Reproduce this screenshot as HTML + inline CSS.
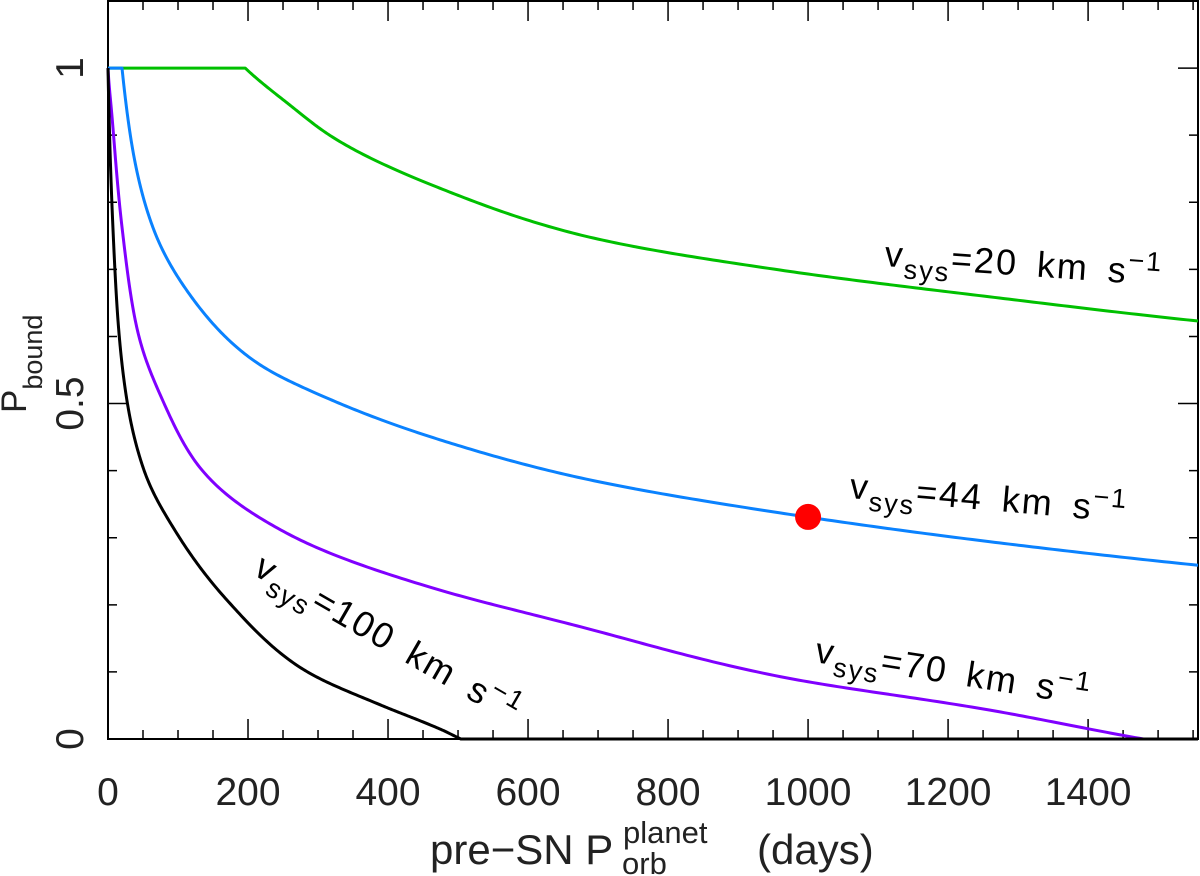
<!DOCTYPE html>
<html><head><meta charset="utf-8"><style>
html,body{margin:0;padding:0;background:#fff;}
svg{display:block;font-family:"Liberation Sans",sans-serif;}
.lab{font-size:36px;letter-spacing:2px;word-spacing:7px;}
</style></head><body>
<svg id="chart" width="1200" height="876" viewBox="0 0 1200 876">
<g id="axes"></g>
<g id="series"></g>
<g id="labels" fill="#000" class="lab">
 <text transform="translate(884,266) rotate(4)">v<tspan font-size="27" dy="11">sys</tspan><tspan dy="-11">=20 km s</tspan><tspan font-size="27" dy="-14">−1</tspan></text>
 <text transform="translate(849,498) rotate(5)">v<tspan font-size="27" dy="11">sys</tspan><tspan dy="-11">=44 km s</tspan><tspan font-size="27" dy="-14">−1</tspan></text>
 <text transform="translate(814,662) rotate(9)">v<tspan font-size="27" dy="11">sys</tspan><tspan dy="-11">=70 km s</tspan><tspan font-size="27" dy="-14">−1</tspan></text>
 <text transform="translate(252,574) rotate(30)">v<tspan font-size="27" dy="11">sys</tspan><tspan dy="-11">=100 km s</tspan><tspan font-size="27" dy="-14">−1</tspan></text>
</g>
<text transform="translate(26,413) rotate(-90)" font-size="35" fill="#222">P<tspan font-size="27" dy="16">bound</tspan></text>
<g fill="#222">
 <text x="430" y="864" font-size="42">pre−SN P</text>
 <text x="623" y="843" font-size="31">planet</text>
 <text x="622" y="874" font-size="31">orb</text>
 <text x="757" y="864" font-size="42">(days)</text>
</g>
</svg>
<script>
const xTicks=[0,200,400,600,800,1000,1200,1400];
const yTicks=[0,0.5,1];
const yTickLabels=["0","0.5","1"];
const green20X=[0,196,256,321,474,676,960,1260,1557];
const green20Y=[1,1,0.948,0.897,0.821,0.751,0.699,0.659,0.623];
const blue44X=[0,20,38,64,115,207,320,474,676,960,1260,1557];
const blue44Y=[1,1,0.863,0.763,0.665,0.565,0.505,0.446,0.389,0.337,0.294,0.259];
const purple70X=[0,7,20,41,78,131,255,474,676,960,1260,1479,1557];
const purple70Y=[1,0.912,0.763,0.614,0.505,0.405,0.307,0.222,0.167,0.093,0.043,0,0];
const black100X=[0,7,15,27,50,98,170,274,391,474,504,1557];
const black100Y=[1,0.763,0.614,0.505,0.405,0.307,0.207,0.107,0.05,0.015,0,0];
const markerX=[1000];
const markerY=[0.331];
const X0=108,X1=1198,Y0=739,Y1=1,XMAX=1557,YMAX=1.1;
const sx=v=>X0+v/XMAX*(X1-X0);
const sy=v=>Y0-v/YMAX*(Y0-Y1);
const NS='http://www.w3.org/2000/svg';
const axes=document.getElementById('axes'),ser=document.getElementById('series');
function mk(t,a,p){const e=document.createElementNS(NS,t);for(const k in a)e.setAttribute(k,a[k]);p.appendChild(e);return e;}
const fr=mk('rect',{x:X0,y:Y1,width:X1-X0,height:Y0-Y1,fill:'none',stroke:'#000','stroke-width':2},axes);


let d='';
for(let v=0;v<=XMAX;v+=50){const L=(v%200===0)?20:9;const x=sx(v);d+=`M${x},${Y0}v${-L}M${x},${Y1}v${L}`;}
for(let i=0;i<=11;i++){const v=i/10;const L=(i%5===0)?20:9;const y=sy(v);d+=`M${X0},${y}h${L}M${X1},${y}h${-L}`;}
const tk=mk('path',{d:d,stroke:'#000','stroke-width':1.5,fill:'none'},axes);


xTicks.forEach(v=>{const t=mk('text',{x:sx(v),y:805,'text-anchor':'middle','font-size':39,fill:'#222'},axes);t.textContent=String(v);

});
yTicks.forEach((v,i)=>{const t=mk('text',{transform:`translate(${X0-25},${sy(v)}) rotate(-90)`,'text-anchor':'middle','font-size':39,fill:'#222'},axes);t.textContent=yTickLabels[i];

});
// monotone cubic interpolation performed in log(x+5) space, sampled to a polyline
const U=x=>Math.log(x+5), Uinv=u=>Math.exp(u)-5;
function monoPath(xs,ys){
 const X=xs.map(U),Y=ys,n=X.length;
 const dl=[],m=new Array(n);
 for(let i=0;i<n-1;i++)dl.push((Y[i+1]-Y[i])/(X[i+1]-X[i]));
 m[0]=dl[0];m[n-1]=dl[n-2];
 for(let i=1;i<n-1;i++){
  if(dl[i-1]===0)m[i]=dl[i];
  else if(dl[i]===0)m[i]=dl[i-1];
  else m[i]=(dl[i-1]*dl[i]<0)?0:(dl[i-1]+dl[i])/2;
 }
 for(let i=0;i<n-1;i++){
  if(dl[i]===0)continue;
  const a=m[i]/dl[i],b=m[i+1]/dl[i],s=a*a+b*b;
  if(s>9){const t=3/Math.sqrt(s);m[i]=t*a*dl[i];m[i+1]=t*b*dl[i];}
 }
 let p=`M${sx(xs[0])},${sy(Y[0])}`;
 for(let i=0;i<n-1;i++){
  if(dl[i]===0){p+=`L${sx(xs[i+1])},${sy(Y[i+1])}`;continue;}
  const h=X[i+1]-X[i],N=40;
  for(let k=1;k<=N;k++){
   const t=k/N,t2=t*t,t3=t2*t;
   const v=(2*t3-3*t2+1)*Y[i]+(t3-2*t2+t)*h*m[i]+(-2*t3+3*t2)*Y[i+1]+(t3-t2)*h*m[i+1];
   const u=X[i]+t*h;
   p+=`L${sx(Uinv(u)).toFixed(2)},${sy(v).toFixed(2)}`;
  }
 }
 return p;
}
function line(xs,ys,c,name){const p=mk('path',{d:monoPath(xs,ys),stroke:c,'stroke-width':3,fill:'none','stroke-linejoin':'round'},ser);

}
line(green20X,green20Y,'#00c000','line-v20');
line(blue44X,blue44Y,'#0a82ff','line-v44');
line(purple70X,purple70Y,'#8000ff','line-v70');
line(black100X,black100Y,'#000','line-v100');
markerX.forEach((x,i)=>{const c=mk('circle',{cx:sx(x),cy:sy(markerY[i]),r:13,fill:'#ff0000'},ser);

});
</script>
</body></html>
